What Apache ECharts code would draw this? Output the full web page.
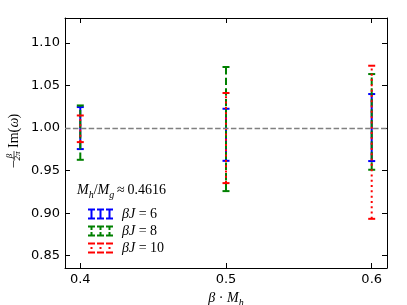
<!DOCTYPE html>
<html>
<head>
<meta charset="utf-8">
<script src="https://cdn.jsdelivr.net/npm/echarts@6/dist/echarts.min.js"></script>
<style>html,body{margin:0;padding:0;background:#fff}#c{width:407px;height:305px}</style>
</head>
<body>
<div id="c"></div>
<script>
// ---- data ----
const xValues = [0.4, 0.5, 0.6];
const betaJ = ['6', '8', '10'];
const lowJ6 = [0.9753, 0.9615, 0.9612];
const highJ6 = [1.0247, 1.0227, 1.0400];
const lowJ8 = [0.9627, 0.9259, 0.9510];
const highJ8 = [1.0266, 1.0718, 1.0635];
const lowJ10 = [0.9835, 0.9353, 0.8933];
const highJ10 = [1.0148, 1.0412, 1.0733];
const xTicks = [0.4, 0.5, 0.6];
const yTicks = [0.85, 0.90, 0.95, 1.00, 1.05, 1.10];
const refValue = 1.0;
const massRatio = '0.4616';

const colors = ['#0000ff', '#008000', '#ff0000'];
const dashes = [null, [7.4, 3.2], [2, 3.3]];
const lows = [lowJ6, lowJ8, lowJ10];
const highs = [highJ6, highJ8, highJ10];

const serif = 'Liberation Serif';
const sans = 'DejaVu Sans';

function makeRender(color, dash) {
  return function (params, api) {
    const x = api.value(0), lo = api.value(1), hi = api.value(2);
    const a = api.coord([x, lo]), b = api.coord([x, hi]);
    const c = 3.5;
    const solid = { stroke: color, lineWidth: 2, fill: null };
    return {
      type: 'group',
      children: [
        { type: 'line', shape: { x1: a[0], y1: a[1], x2: b[0], y2: b[1] },
          style: { stroke: color, lineWidth: 2, lineDash: dash || null, lineCap: 'butt' } },
        { type: 'line', shape: { x1: a[0] - c, y1: a[1], x2: a[0] + c, y2: a[1] }, style: solid },
        { type: 'line', shape: { x1: b[0] - c, y1: b[1], x2: b[0] + c, y2: b[1] }, style: solid }
      ]
    };
  };
}

function iconPath(kind) {
  let p = '';
  [3.5, 12.5, 21.5].forEach(cx => {
    const l = cx - 3.5, bl = cx - 1;
    p += `M${l},0h7v2h-7z M${l},9h7v2h-7z `;
    if (kind === 0) p += `M${bl},0h2v11h-2z `;
    else if (kind === 1) p += `M${bl},0h2v4.5h-2z M${bl},6.5h2v4.5h-2z `;
    else p += `M${bl},4.5h2v2h-2z `;
  });
  return 'path://' + p;
}

const names = betaJ.map(v => 'βJ=' + v);

const series = [{
  type: 'custom', name: 'ref', z: 1, data: [],
  renderItem: () => null,
  markLine: {
    silent: true, symbol: 'none', label: { show: false },
    lineStyle: { color: '#808080', type: [5.5, 2.4], width: 1.3 },
    data: [{ yAxis: refValue }]
  }
}];
lows.forEach((lo, i) => {
  series.push({
    type: 'custom', name: names[i], z: 2 + i,
    itemStyle: { color: colors[i] },
    renderItem: makeRender(colors[i], dashes[i]),
    encode: { x: 0, y: [1, 2] },
    data: xValues.map((x, k) => [x, lo[k], highs[i][k]])
  });
});

const axisCommonX = {
  type: 'value', min: 0.3895, max: 0.6105,
  splitLine: { show: false },
  axisLine: { show: true, lineStyle: { color: '#000', width: 1 } },
  axisTick: { show: true, inside: true, length: 5, customValues: xTicks, lineStyle: { color: '#000', width: 1 } }
};
const axisCommonY = {
  type: 'value', min: 0.8355, max: 1.1294,
  splitLine: { show: false },
  axisLine: { show: true, lineStyle: { color: '#000', width: 1 } },
  axisTick: { show: true, inside: true, length: 5, customValues: yTicks, lineStyle: { color: '#000', width: 1 } }
};

const chart = echarts.init(document.getElementById('c'), null, { renderer: 'canvas' });
chart.setOption({
  animation: false,
  grid: { left: 65, right: 20, top: 18, bottom: 37, containLabel: false, outerBoundsMode: 'none' },
  xAxis: [
    Object.assign({}, axisCommonX, {
      position: 'bottom',
      axisLabel: { customValues: xTicks, color: '#000', fontFamily: sans, fontSize: 13, margin: 5,
        formatter: v => v.toFixed(1) },
      name: '{i|β}{r| · }{i|M}{s|h}', nameLocation: 'middle', nameGap: 12,
      nameTextStyle: {
        rich: {
          i: { fontFamily: serif, fontStyle: 'italic', fontSize: 14, color: '#000', lineHeight: 16, verticalAlign: 'bottom' },
          r: { fontFamily: serif, fontSize: 14, color: '#000', lineHeight: 16, verticalAlign: 'bottom' },
          s: { fontFamily: serif, fontStyle: 'italic', fontSize: 10, color: '#000', lineHeight: 16, verticalAlign: 'bottom', padding: [0, 0, -3, 0] }
        }
      }
    }),
    Object.assign({}, axisCommonX, { position: 'top', axisLabel: { show: false } })
  ],
  yAxis: [
    Object.assign({}, axisCommonY, {
      position: 'left',
      axisLabel: { customValues: yTicks, color: '#000', fontFamily: sans, fontSize: 13, margin: 5,
        formatter: v => v.toFixed(2) }
    }),
    Object.assign({}, axisCommonY, { position: 'right', axisLabel: { show: false } })
  ],
  legend: {
    left: 83, top: 202, orient: 'vertical', itemGap: 3,
    itemWidth: 25, itemHeight: 11,
    data: names.map((n, i) => ({ name: n, icon: iconPath(i) })),
    formatter: n => '{i|βJ}{r| = ' + n.split('=')[1] + '}',
    textStyle: {
      padding: [0, 0, 0, 4],
      rich: {
        i: { fontFamily: serif, fontStyle: 'italic', fontSize: 14, color: '#000', lineHeight: 15 },
        r: { fontFamily: serif, fontSize: 14, color: '#000', lineHeight: 15 }
      }
    }
  },
  graphic: [
    {
      type: 'text', left: 77, top: 183, z: 10,
      style: {
        text: '{i|M}{s|h}{r|/}{i|M}{s|g}{r|\u2009≈\u20090.4616}'.replace('0.4616', massRatio),
        rich: {
          i: { fontFamily: serif, fontStyle: 'italic', fontSize: 14, fill: '#000', lineHeight: 17, verticalAlign: 'bottom' },
          r: { fontFamily: serif, fontSize: 14, fill: '#000', lineHeight: 17, verticalAlign: 'bottom' },
          s: { fontFamily: serif, fontStyle: 'italic', fontSize: 10, fill: '#000', lineHeight: 17, verticalAlign: 'bottom', padding: [0, 0, -3, 0] }
        }
      }
    },
    {
      type: 'group', x: 14, y: 141, rotation: Math.PI / 2,
      children: [
        { type: 'text', x: -27, y: 0, style: { text: '−', font: '14px ' + serif, fill: '#000', textAlign: 'left', textVerticalAlign: 'middle' } },
        { type: 'text', x: -15, y: -4, style: { text: 'β', font: 'italic 9px ' + serif, fill: '#000', textAlign: 'center', textVerticalAlign: 'middle' } },
        { type: 'line', shape: { x1: -20, y1: 0, x2: -10, y2: 0 }, style: { stroke: '#000', lineWidth: 0.7 } },
        { type: 'text', x: -15, y: 4, style: { text: '2π', font: 'italic 9px ' + serif, fill: '#000', textAlign: 'center', textVerticalAlign: 'middle' } },
        { type: 'text', x: -7, y: 0, style: { text: 'Im(', font: '14px ' + serif, fill: '#000', textAlign: 'left', textVerticalAlign: 'middle' } },
        { type: 'text', x: 13.5, y: 0, style: { text: 'ω', font: 'italic 14px ' + serif, fill: '#000', textAlign: 'left', textVerticalAlign: 'middle' } },
        { type: 'text', x: 22.5, y: 0, style: { text: ')', font: '14px ' + serif, fill: '#000', textAlign: 'left', textVerticalAlign: 'middle' } }
      ]
    }
  ],
  series: series
});
</script>
</body>
</html>
